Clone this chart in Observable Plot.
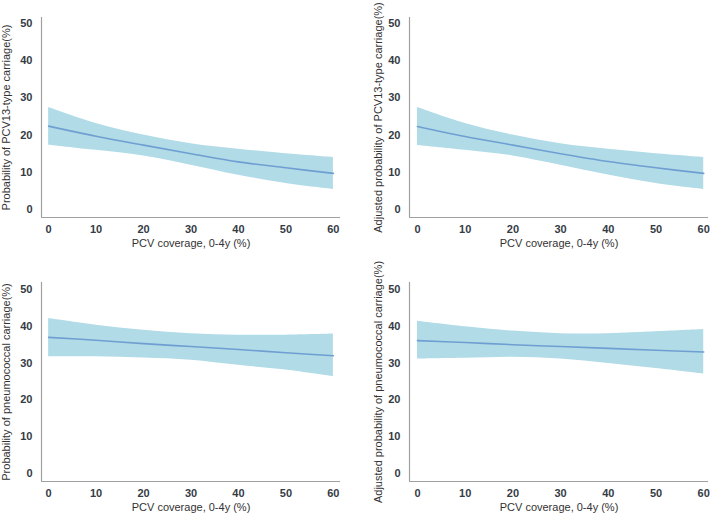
<!DOCTYPE html>
<html>
<head>
<meta charset="utf-8">
<script src="https://cdn.jsdelivr.net/npm/d3@7"></script>
<script src="https://cdn.jsdelivr.net/npm/@observablehq/plot@0.6"></script>
<style>
  html, body { margin: 0; padding: 0; background: #fff; }
  #wrap { position: relative; width: 710px; height: 517px; overflow: hidden; }
  .cell { position: absolute; }
</style>
</head>
<body>
<div id="wrap"></div>
<script>
// ---- data ----
const coverage = [0, 10, 20, 30, 40, 50, 60];
const xTicks = [0, 10, 20, 30, 40, 50, 60];
const yTicks = [0, 10, 20, 30, 40, 50];
const xTitle = "PCV coverage, 0-4y (%)";

const pcv13Mean  = [22.4, 19.7, 17.3, 15.0, 12.8, 11.2, 9.7];
const pcv13Upper = [27.4, 23.1, 20.0, 17.7, 16.2, 15.0, 14.0];
const pcv13Lower = [17.3, 15.9, 14.4, 11.9, 9.2, 7.0, 5.4];

const adjPcv13Mean  = [22.3, 19.6, 17.3, 15.0, 12.9, 11.2, 9.7];
const adjPcv13Upper = [27.4, 23.1, 20.0, 17.7, 16.2, 15.0, 14.0];
const adjPcv13Lower = [17.2, 15.9, 14.4, 11.9, 9.3, 7.0, 5.4];

const pneumoMean  = [37.0, 36.2, 35.3, 34.5, 33.7, 32.8, 32.0];
const pneumoUpper = [42.1, 40.3, 38.9, 38.0, 37.6, 37.6, 37.9];
const pneumoLower = [31.7, 31.7, 31.4, 30.8, 29.4, 28.1, 26.3];

const adjPneumoMean  = [36.1, 35.6, 35.0, 34.5, 34.0, 33.5, 33.0];
const adjPneumoUpper = [41.4, 39.9, 38.7, 38.0, 38.0, 38.5, 39.1];
const adjPneumoLower = [31.1, 31.3, 31.6, 31.1, 29.9, 28.5, 27.0];

const yTitles = [
  "Probability of PCV13-type carriage(%)",
  "Adjusted probability of PCV13-type carriage(%)",
  "Probability of pneumococcal carriage(%)",
  "Adjusted probability of pneumococcal carriage(%)"
];

// ---- drawing ----
const FONT = "'Liberation Sans', Arial, Helvetica, sans-serif";
const BAND = "#b1dbe7";
const LINE = "#6f9fd2";
const AXIS = "#a0a0a0";

function panel(cfg) {
  const data = coverage.map((x, i) => ({x, mean: cfg.mean[i], lo: cfg.lower[i], hi: cfg.upper[i]}));
  return Plot.plot({
    width: cfg.width, height: cfg.height,
    marginLeft: cfg.ml, marginRight: cfg.mr, marginTop: cfg.mt, marginBottom: cfg.mb,
    style: {fontFamily: FONT, fontSize: "11px", color: "#333", background: "white", overflow: "visible"},
    x: {domain: cfg.xDomain},
    y: {domain: cfg.yDomain},
    marks: [
      Plot.areaY(data, {x: "x", y1: "lo", y2: "hi", fill: BAND, curve: "catmull-rom"}),
      Plot.lineY(data, {x: "x", y: "mean", stroke: LINE, strokeWidth: 1.6, curve: "catmull-rom"}),
      Plot.ruleX([cfg.xDomain[0]], {stroke: AXIS, strokeWidth: 1.2}),
      Plot.ruleY([cfg.yDomain[0]], {stroke: AXIS, strokeWidth: 1.2}),
      Plot.axisX({ticks: xTicks, tickSize: 0, tickPadding: 8, label: null, fontSize: 11, fontWeight: "bold", fill: "#353b45"}),
      Plot.axisY({ticks: yTicks, tickSize: 0, tickPadding: 9, label: null, fontSize: 11, fontWeight: "bold", fill: "#353b45"}),
      Plot.text([xTitle], {frameAnchor: "bottom", dy: cfg.xTitleDy, fontSize: 11, fill: "#333", text: d => d}),
      Plot.text([cfg.yTitle], {frameAnchor: "left", dx: cfg.yTitleDx, rotate: -90, textAnchor: "middle", fontSize: 11, fill: "#333", text: d => d})
    ]
  });
}

const panels = [
  {left: 0, top: 0, width: 355, height: 260, ml: 41, mr: 15, mt: 17, mb: 43,
   xDomain: [-1.5, 61.5], yDomain: [-2.15, 51.6], xTitleDy: 29, yTitleDx: -35,
   mean: pcv13Mean, upper: pcv13Upper, lower: pcv13Lower, yTitle: yTitles[0]},
  {left: 355, top: 0, width: 355, height: 260, ml: 54, mr: 2, mt: 17, mb: 43,
   xDomain: [-1.68, 61.0], yDomain: [-2.15, 51.6], xTitleDy: 29, yTitleDx: -31,
   mean: adjPcv13Mean, upper: adjPcv13Upper, lower: adjPcv13Lower, yTitle: yTitles[1]},
  {left: 0, top: 260, width: 355, height: 257, ml: 41, mr: 15, mt: 22, mb: 36,
   xDomain: [-1.5, 61.5], yDomain: [-2.17, 51.9], xTitleDy: 29, yTitleDx: -35,
   mean: pneumoMean, upper: pneumoUpper, lower: pneumoLower, yTitle: yTitles[2]},
  {left: 355, top: 260, width: 355, height: 257, ml: 54, mr: 2, mt: 22, mb: 36,
   xDomain: [-1.68, 61.0], yDomain: [-2.17, 51.9], xTitleDy: 29, yTitleDx: -31,
   mean: adjPneumoMean, upper: adjPneumoUpper, lower: adjPneumoLower, yTitle: yTitles[3]}
];

const wrap = document.getElementById("wrap");
for (const p of panels) {
  const div = document.createElement("div");
  div.className = "cell";
  div.style.left = p.left + "px";
  div.style.top = p.top + "px";
  div.appendChild(panel(p));
  wrap.appendChild(div);
}
</script>
</body>
</html>
